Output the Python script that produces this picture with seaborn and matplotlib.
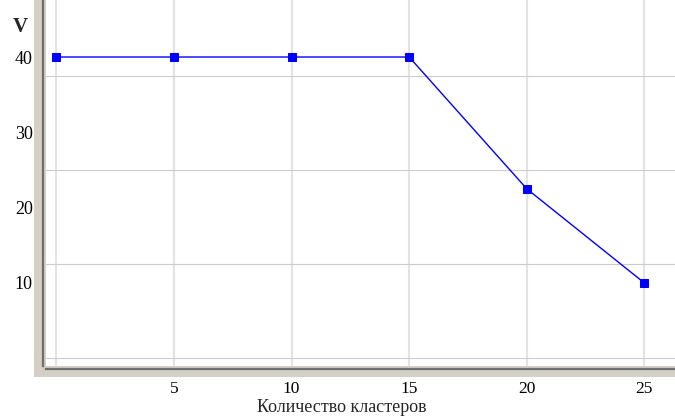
import numpy as np
import matplotlib
matplotlib.use("Agg")
import matplotlib.pyplot as plt
from matplotlib.patches import Rectangle
from matplotlib.ticker import FixedLocator, FuncFormatter
import seaborn as sns
import pandas as pd

# cluster count vs. V
clusters = [0, 5, 10, 15, 20, 25]
v_values = [40, 40, 40, 40, 22.5, 10]
x_label_ticks = [5, 10, 15, 20, 25]
y_label_ticks = [10, 20, 30, 40]

sns.set_style("white")
plt.rcParams["font.family"] = ["Liberation Serif", "DejaVu Serif"]

W, H = 675, 419
fig = plt.figure(figsize=(W / 100, H / 100), dpi=100)
fig.patch.set_facecolor("white")

# bevelled axis bands
band = "#d4d0c8"
fig.add_artist(Rectangle((34 / W, (H - 377) / H), 12 / W, 377 / H,
                         transform=fig.transFigure, facecolor=band,
                         edgecolor="none", zorder=0))
fig.add_artist(Rectangle((34 / W, (H - 377) / H), (W - 34) / W, 11 / H,
                         transform=fig.transFigure, facecolor=band,
                         edgecolor="none", zorder=0))

ax = fig.add_axes([46 / W, (H - 366) / H, (W - 46) / W, 366 / H])
ax.set_facecolor("white")

df = pd.DataFrame({"clusters": clusters, "V": v_values})
sns.lineplot(data=df, x="clusters", y="V", ax=ax, color="#0000ff",
             linewidth=1.0, marker="s", markersize=5.4,
             markeredgecolor="#0000ff", markerfacecolor="#0000ff", zorder=5)

ax.set_xlim(-0.44, 26.3)
ax.set_ylim(-1.02, 47.57)

# x axis: major every 5, minor every 1
ax.xaxis.set_major_locator(FixedLocator(np.arange(0, 30, 5)))
ax.xaxis.set_minor_locator(FixedLocator(np.arange(0, 27, 1)))
ax.xaxis.set_major_formatter(FuncFormatter(
    lambda v, p: f"{int(round(v))}" if round(v) in x_label_ticks else ""))

# y axis: long ticks and grid at 12.5 steps, short ticks every 2.5
ax.yaxis.set_major_locator(FixedLocator([0, 12.5, 25, 37.5]))
ax.yaxis.set_minor_locator(FixedLocator(np.arange(0, 47.5, 2.5)))
ax.yaxis.set_major_formatter(FuncFormatter(lambda v, p: ""))
ax.yaxis.set_minor_formatter(FuncFormatter(
    lambda v, p: f"{int(round(v))}" if any(abs(v - t) < 1e-6 for t in y_label_ticks) else ""))

for s in ["top", "right"]:
    ax.spines[s].set_visible(False)
for s in ["left", "bottom"]:
    ax.spines[s].set_color("#6e6e6e")
    ax.spines[s].set_linewidth(1.6)
    ax.spines[s].set_position(("outward", 2.5))

ax.tick_params(axis="both", which="major", direction="out", length=4.8,
               width=1.0, color="#3a3a3a", labelsize=13, labelcolor="black")
ax.tick_params(axis="both", which="minor", direction="out", length=3,
               width=1.0, color="#3a3a3a", labelsize=13, labelcolor="black")
ax.tick_params(axis="x", which="major", labelsize=12.5, pad=3.2)
ax.tick_params(axis="y", which="minor", pad=4)

ax.grid(False)
for xv in np.arange(0, 30, 5):
    ax.axvline(xv, color="#e3e3e3", linewidth=1.5, zorder=1)
for yv in [0, 12.5, 25, 37.5]:
    ax.axhline(yv, color="#cccccc", linewidth=0.8, zorder=1)

ax.set_xlabel("Количество кластеров", fontsize=13)
ax.xaxis.set_label_coords(0.4706, -0.114)
ax.xaxis.label.set_va("center")
ax.set_ylabel("V", rotation=0, fontsize=15, fontweight="bold")
ax.yaxis.set_label_coords(-0.041, 0.926)
ax.yaxis.label.set_va("center")
ax.yaxis.label.set_ha("center")

fig.savefig("out.png", dpi=100, facecolor="white")
